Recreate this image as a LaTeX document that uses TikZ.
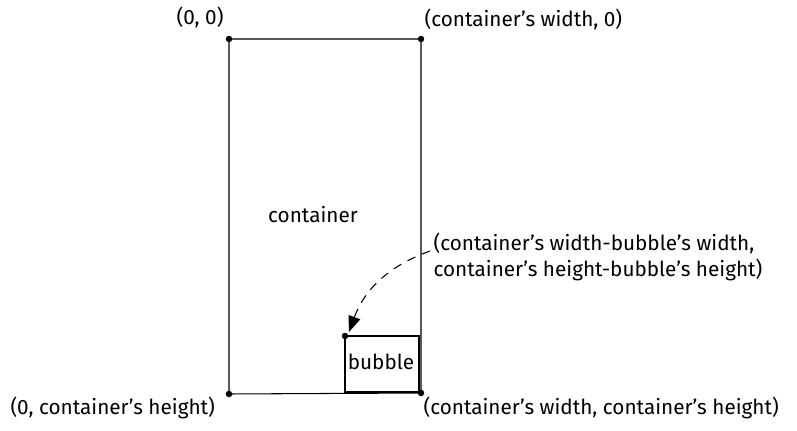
\documentclass[tikz,border=0pt]{standalone}
\usepackage{fontspec}
\setmainfont{Fira Sans}
\usepackage{tikz}
\usetikzlibrary{arrows.meta,positioning}

\begin{document}
\begin{tikzpicture}[x=0.02cm,y=-0.02cm,
  font=\fontsize{11.8}{14.3}\selectfont,
  line width=0.6pt,
  dot/.style={circle,fill,inner sep=1.3pt},
  lbl/.style={inner sep=0pt,align=left}]
\useasboundingbox (0,0) rectangle (797,431);

% container corners
\coordinate (ctl) at (229,39);
\coordinate (ctr) at (421,39);
\coordinate (cbr) at (421,393);
\coordinate (cbl) at (229,394);
% bubble corners
\coordinate (btl) at (345,336);
\coordinate (bbr) at (419,392);

\draw (ctl) -- (ctr) -- (cbr) -- (cbl) -- cycle;
\draw (btl) rectangle (bbr);

\node[dot] (dtl) at (ctl) {};
\node[dot] (dtr) at (ctr) {};
\node[dot] (dbr) at (cbr) {};
\node[dot] (dbl) at (cbl) {};
\node[dot] (dbub) at (btl) {};

\node (cname) at (313,215) {container};
\node (bname) at (381,362) {bubble};

\node[lbl,anchor=east] (l00) at (224,17) {(0, 0)};
\node[lbl,anchor=west] (lw0) at (424,19) {(container's width, 0)};
\node[lbl,anchor=west] (l0h) at (10,408) {(0, container's height)};
\node[lbl,anchor=west] (lwh) at (423,408) {(container's width, container's height)};
\node[lbl,anchor=west] (lbub) at (433,257) {(container's width-bubble's width,\\container's height-bubble's height)};

\draw[dash pattern=on 5pt off 4pt,-{Triangle[length=9pt,width=7pt]}] (lbub.west) ++(-3,-6)
  to[out=200,in=70] ([shift={(4,-4)}]dbub.center);

\end{tikzpicture}
\end{document}
